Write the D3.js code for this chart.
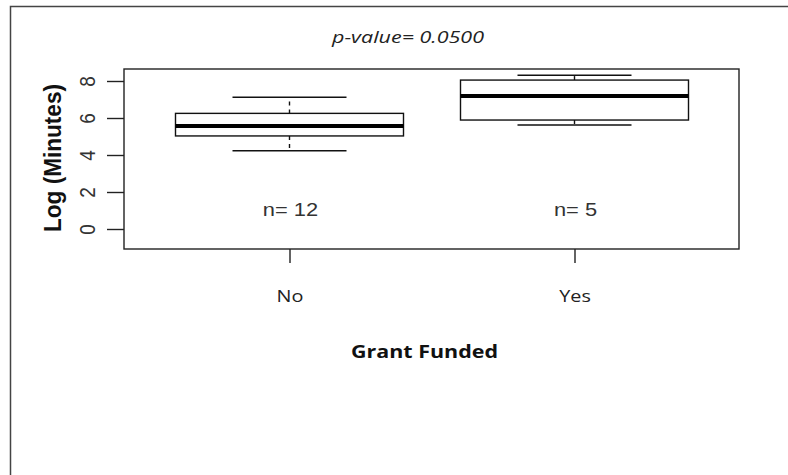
<!DOCTYPE html>
<html><head><meta charset="utf-8">
<script src="https://cdn.jsdelivr.net/npm/d3@7/dist/d3.min.js"></script>
<style>body{margin:0;background:#fff}svg{display:block}</style>
</head><body>
<script>
const categories = ["No", "Yes"];
const lowerWhisker = [4.23, 5.62];
const q1 = [5.03, 5.89];
const median = [5.57, 7.19];
const q3 = [6.25, 8.05];
const upperWhisker = [7.12, 8.31];
const counts = [12, 5];
const yTicks = [0, 2, 4, 6, 8];
const title = "p-value= 0.0500";

const W = 788, H = 475;
const SX = 1.15; // horizontal stretch of the original picture
const svg = d3.select("body").append("svg").attr("width", W).attr("height", H);

function stretch(sel, sx) {
  sel.each(function () {
    const n = this.getComputedTextLength();
    d3.select(this).attr("textLength", n * sx).attr("lengthAdjust", "spacingAndGlyphs");
  });
}

// outer frame (top and left lines)
svg.append("path").attr("d", `M10.5,${H} V6.5 H${W}`).attr("fill", "none").attr("stroke", "#444").attr("stroke-width", 1.5);

const box = {l: 124, r: 739, t: 69, b: 249};
const y = d3.scaleLinear().domain([0, 8]).range([229, 81]);
const x = d3.scaleLinear().domain([1, 2]).range([289.5, 574.5]);
const unit = x(2) - x(1);

svg.append("rect").attr("x", box.l).attr("y", box.t).attr("width", box.r - box.l).attr("height", box.b - box.t)
  .attr("fill", "none").attr("stroke", "#222").attr("stroke-width", 1.4);

// y axis
const yAxis = svg.append("g").attr("transform", `translate(${box.l},0)`)
  .call(d3.axisLeft(y).tickValues(yTicks).tickSize(17).tickFormat(d3.format("d")));
yAxis.select(".domain").remove();
yAxis.selectAll(".tick line").attr("stroke", "#222").attr("stroke-width", 1.4);
yAxis.selectAll(".tick text").attr("x", null).attr("dy", null)
  .attr("transform", `translate(-37,0) scale(${SX},1) rotate(-90)`)
  .attr("text-anchor", "middle").attr("dominant-baseline", "central")
  .style("font-family", "'Liberation Sans', Arial, sans-serif").style("font-size", "19px").attr("fill", "#333");

// x axis
const xAxis = svg.append("g").attr("transform", `translate(0,${box.b})`)
  .call(d3.axisBottom(x).tickValues([1, 2]).tickSize(14).tickFormat(d => categories[d - 1]));
xAxis.select(".domain").remove();
xAxis.selectAll(".tick line").attr("stroke", "#222").attr("stroke-width", 1.4);
xAxis.selectAll(".tick text").attr("y", 53).attr("dy", null)
  .style("font-family", "'Open Sans', sans-serif").style("font-size", "16.5px").attr("fill", "#222")
  .call(stretch, 1.2);

// boxes
const idx = d3.range(categories.length);
const g = svg.append("g");
idx.forEach(i => {
  const cx = x(i + 1);
  const bw = 0.8 * unit, cw = 0.4 * unit;
  g.append("line").attr("x1", cx).attr("x2", cx).attr("y1", y(q3[i])).attr("y2", y(upperWhisker[i]))
    .attr("stroke", "#111").attr("stroke-width", 1.4).attr("stroke-dasharray", "4,4");
  g.append("line").attr("x1", cx).attr("x2", cx).attr("y1", y(q1[i])).attr("y2", y(lowerWhisker[i]))
    .attr("stroke", "#111").attr("stroke-width", 1.4).attr("stroke-dasharray", "4,4");
  [upperWhisker[i], lowerWhisker[i]].forEach(v => {
    g.append("line").attr("x1", cx - cw / 2).attr("x2", cx + cw / 2).attr("y1", y(v)).attr("y2", y(v))
      .attr("stroke", "#111").attr("stroke-width", 1.4);
  });
  g.append("rect").attr("x", cx - bw / 2).attr("width", bw)
    .attr("y", y(q3[i])).attr("height", y(q1[i]) - y(q3[i]))
    .attr("fill", "#fff").attr("stroke", "#111").attr("stroke-width", 1.4);
  g.append("line").attr("x1", cx - bw / 2).attr("x2", cx + bw / 2).attr("y1", y(median[i])).attr("y2", y(median[i]))
    .attr("stroke", "#000").attr("stroke-width", 4);
  g.append("text").attr("x", cx + 1).attr("y", 216).attr("text-anchor", "middle")
    .style("font-family", "'Liberation Sans', Arial, sans-serif").style("font-size", "19px").attr("fill", "#333")
    .text("n= " + counts[i])
    .call(stretch, SX);
});

// title
const t = svg.append("text").attr("x", 408).attr("y", 43).attr("text-anchor", "middle")
  .style("font-family", "'Open Sans', sans-serif").style("font-style", "italic").style("font-size", "17px").attr("fill", "#222")
  .text(title);
t.attr("textLength", 152).attr("lengthAdjust", "spacingAndGlyphs");

// axis titles
svg.append("text").attr("x", 424.5).attr("y", 358).attr("text-anchor", "middle")
  .style("font-family", "'Open Sans', sans-serif").style("font-weight", "bold").style("font-size", "18px").attr("fill", "#111")
  .text("Grant Funded")
  .attr("textLength", 147).attr("lengthAdjust", "spacingAndGlyphs");
svg.append("text").attr("transform", `translate(61,158) scale(${SX},1) rotate(-90)`).attr("text-anchor", "middle")
  .style("font-family", "'Liberation Sans', Arial, sans-serif").style("font-weight", "bold").style("font-size", "21px").attr("fill", "#111")
  .text("Log (Minutes)")
  .attr("textLength", 148).attr("lengthAdjust", "spacingAndGlyphs");
</script>
</body></html>
